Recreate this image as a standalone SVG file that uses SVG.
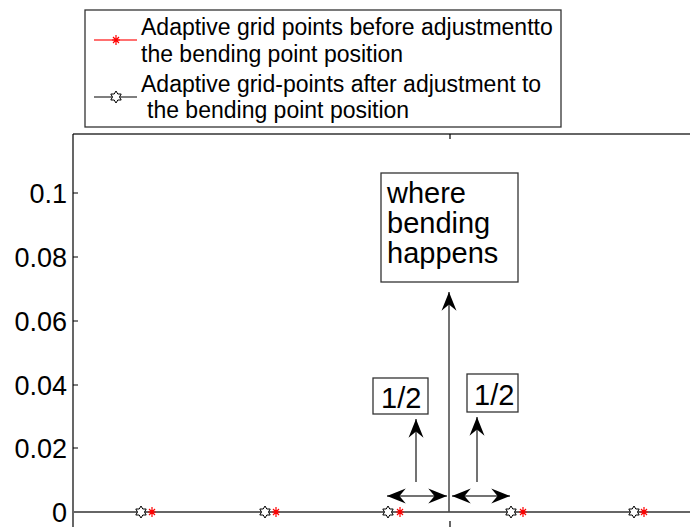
<svg xmlns="http://www.w3.org/2000/svg" width="690" height="527" viewBox="0 0 690 527">
<style>
text{font-family:"Liberation Sans",Arial,sans-serif;fill:#000}
.tick{font-size:27px;text-anchor:end}
.leg{font-size:23px}
.lbl{font-size:29px}
.ax{stroke:#000;stroke-width:1.2;fill:none}
.gax{stroke:#666;stroke-width:2;fill:none}
.arr{stroke:#444;stroke-width:1.5;fill:none}
.box{fill:#fff;stroke:#333;stroke-width:1.3}
.star{fill:#fff;stroke:#000;stroke-width:1}
.ast{stroke:#f00;stroke-width:1.2}
</style>
<defs>
<marker id="ah" markerUnits="userSpaceOnUse" markerWidth="20" markerHeight="16" refX="15" refY="6" orient="auto-start-reverse" viewBox="0 0 16 12">
<path d="M15,6 L0,0 L5,6 L0,12 Z" fill="#000"/>
</marker>
<g id="hex"><polygon class="star" points="0,-6 1.8,-3 5.2,-3 3.5,0 5.2,3 1.8,3 0,6 -1.8,3 -5.2,3 -3.5,0 -5.2,-3 -1.8,-3"/></g>
<g id="ast"><path class="ast" d="M0,-5V5M-3,-3L3,3M-3,3L3,-3M-4,0H4"/></g>
</defs>

<g id="axes">
<line class="gax" x1="73" y1="134" x2="690" y2="134"/>
<line class="ax" x1="73" y1="134" x2="73" y2="527"/>
<line class="gax" x1="73" y1="512" x2="690" y2="512"/>
<line class="ax" x1="450" y1="134" x2="450" y2="139"/>
<line class="ax" x1="450" y1="521" x2="450" y2="527"/>
<g stroke="#000" stroke-width="1">
<line x1="73" y1="193" x2="78" y2="193"/>
<line x1="73" y1="257" x2="78" y2="257"/>
<line x1="73" y1="321" x2="78" y2="321"/>
<line x1="73" y1="385" x2="78" y2="385"/>
<line x1="73" y1="448" x2="78" y2="448"/>
</g>
<text class="tick" x="67" y="203">0.1</text>
<text class="tick" x="67" y="267">0.08</text>
<text class="tick" x="67" y="331">0.06</text>
<text class="tick" x="67" y="395">0.04</text>
<text class="tick" x="67" y="458">0.02</text>
<text class="tick" x="67" y="522">0</text>
</g>

<g id="legend">
<rect class="box" x="85" y="10" width="476" height="117"/>
<line x1="94" y1="40" x2="137" y2="40" stroke="#ff4040" stroke-width="1.5"/>
<use href="#ast" x="116" y="40"/>
<line x1="94" y1="97" x2="137" y2="97" stroke="#000" stroke-width="1.2"/>
<use href="#hex" x="116" y="97"/>
<text class="leg" x="141" y="35">Adaptive grid points before adjustmentto</text>
<text class="leg" x="141" y="62">the bending point position</text>
<text class="leg" x="141" y="92">Adaptive grid-points after adjustment to</text>
<text class="leg" x="141" y="118"> <tspan x="147">the bending point position</tspan></text>
</g>

<g id="points">
<use href="#hex" x="141" y="512"/><use href="#ast" x="152" y="512"/>
<use href="#hex" x="265" y="512"/><use href="#ast" x="276" y="512"/>
<use href="#hex" x="388" y="512"/><use href="#ast" x="400" y="512"/>
<use href="#hex" x="511" y="512"/><use href="#ast" x="523" y="512"/>
<use href="#hex" x="634" y="512"/><use href="#ast" x="644" y="512"/>
</g>

<g id="where-box">
<rect class="box" x="381" y="173" width="137" height="109"/>
<text class="lbl" x="387" y="203">where</text>
<text class="lbl" x="387" y="233">bending</text>
<text class="lbl" x="387" y="263">happens</text>
</g>
<g id="half-left">
<rect class="box" x="373" y="378" width="55" height="36"/>
<text class="lbl" x="381" y="408">1/2</text>
</g>
<g id="half-right">
<rect class="box" x="467" y="374" width="51" height="38"/>
<text class="lbl" x="474" y="405">1/2</text>
</g>

<g id="connectors">
<line class="arr" x1="449" y1="512" x2="449" y2="292" marker-end="url(#ah)"/>
<line class="arr" x1="416" y1="482" x2="416" y2="419" marker-end="url(#ah)"/>
<line class="arr" x1="477" y1="482" x2="477" y2="417" marker-end="url(#ah)"/>
<line class="arr" x1="387" y1="496" x2="447" y2="496" marker-start="url(#ah)" marker-end="url(#ah)"/>
<line class="arr" x1="452" y1="496" x2="510" y2="496" marker-start="url(#ah)" marker-end="url(#ah)"/>
</g>
</svg>
